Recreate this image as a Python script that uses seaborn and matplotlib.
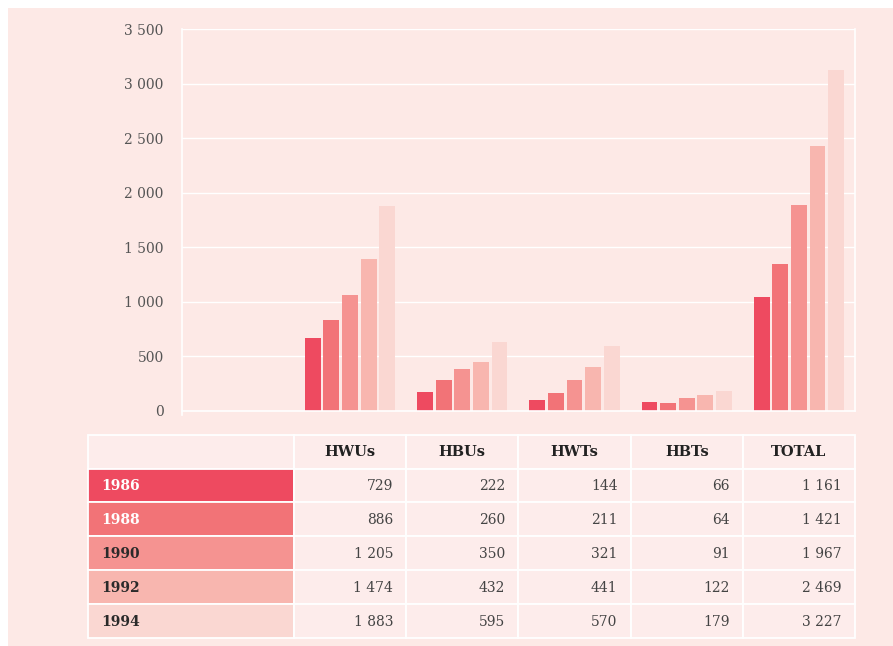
import matplotlib
matplotlib.use("Agg")
import matplotlib.pyplot as plt
from matplotlib.patches import Rectangle
import seaborn as sns
import pandas as pd

# ---- data ----
categories = ["HWUs", "HBUs", "HWTs", "HBTs", "TOTAL"]
years = ["1986", "1988", "1990", "1992", "1994"]
# bar heights as drawn in the chart
bar_hwus = [670, 835, 1065, 1395, 1875]
bar_hbus = [175, 280, 380, 450, 630]
bar_hwts = [97, 158, 279, 400, 590]
bar_hbts = [76, 67, 118, 145, 182]
bar_total = [1040, 1345, 1890, 2430, 3130]
# values printed in the table
tab_hwus = ["729", "886", "1 205", "1 474", "1 883"]
tab_hbus = ["222", "260", "350", "432", "595"]
tab_hwts = ["144", "211", "321", "441", "570"]
tab_hbts = ["66", "64", "91", "122", "179"]
tab_total = ["1 161", "1 421", "1 967", "2 469", "3 227"]
yticks = [0, 500, 1000, 1500, 2000, 2500, 3000, 3500]
ytick_labels = ["0", "500", "1 000", "1 500", "2 000", "2 500", "3 000", "3 500"]

year_colors = ["#ee4a60", "#f27377", "#f59391", "#f8b6af", "#fad7d2"]
bg = "#fde9e6"
cell_bg = "#fdeceb"
serif = ["DejaVu Serif", "Liberation Serif"]

bars = [bar_hwus, bar_hbus, bar_hwts, bar_hbts, bar_total]
rows = []
for c, vals in zip(categories, bars):
    for y, v in zip(years, vals):
        rows.append({"cat": c, "year": y, "value": v})
df = pd.DataFrame(rows)

sns.set_theme(style="white")
plt.rcParams["font.family"] = serif

W, H = 893, 646
fig = plt.figure(figsize=(W / 100, H / 100), dpi=100)
fig.patch.set_facecolor("white")
fig.patches.append(Rectangle((8 / W, 0), 1 - 8 / W, 1 - 8 / H, transform=fig.transFigure,
                             facecolor=bg, edgecolor="none", zorder=-10))

# ---- chart ----
x0, x1 = 181.7, 855
y_top, y_bot = 29.3, 410.7
ax = fig.add_axes([x0 / W, 1 - y_bot / H, (x1 - x0) / W, (y_bot - y_top) / H])
ax.set_facecolor(bg)
sns.barplot(data=df, x="cat", y="value", hue="year", order=categories,
            hue_order=years, palette=year_colors, width=0.83, gap=0.15,
            ax=ax, legend=False, saturation=1, linewidth=0, edgecolor="none")
ax.set_xlim(-1.5, 4.5)
ax.set_ylim(0, 3500)
ax.set_yticks(yticks)
ax.set_yticklabels(ytick_labels, fontsize=10, color="#555555", family=serif)
ax.set_xticks([])
ax.set_xlabel("")
ax.set_ylabel("")
ax.yaxis.grid(True, color="white", linewidth=1)
ax.set_axisbelow(True)
for s in ["left", "bottom", "right"]:
    ax.spines[s].set_visible(True)
    ax.spines[s].set_color("white")
    ax.spines[s].set_linewidth(1.2)
ax.spines["top"].set_visible(False)
ax.spines["left"].set_bounds(-40, 3500)
ax.tick_params(axis="y", length=0, pad=13)

# ---- table ----
tax = fig.add_axes([0, 0, 1, 1])
tax.set_xlim(0, W)
tax.set_ylim(H, 0)
tax.axis("off")
col_edges = [88, 293.6, 406, 518, 630.5, 743, 855]
row_edges = [434.5, 468.5, 502, 535.5, 569.5, 603.5, 637.5]
table_cols = [tab_hwus, tab_hbus, tab_hwts, tab_hbts, tab_total]

for r in range(6):
    for c in range(6):
        xa, xb = col_edges[c], col_edges[c + 1]
        ya, yb = row_edges[r], row_edges[r + 1]
        if c == 0 and r > 0:
            fc = year_colors[r - 1]
        else:
            fc = cell_bg
        tax.add_patch(Rectangle((xa, ya), xb - xa, yb - ya, facecolor=fc,
                                edgecolor="white", linewidth=1.3))
        ym = (ya + yb) / 2
        if r == 0 and c > 0:
            tax.text((xa + xb) / 2, ym + 1, categories[c - 1], ha="center", va="center",
                     fontsize=10.5, fontweight="bold", color="#222222", family=serif)
        elif r > 0 and c == 0:
            tcol = "white" if r <= 2 else "#2a2a2a"
            tax.text(xa + 13, ym + 1, years[r - 1], ha="left", va="center",
                     fontsize=10, fontweight="bold", color=tcol, family=serif)
        elif r > 0 and c > 0:
            tax.text(xb - 13, ym + 1, table_cols[c - 1][r - 1], ha="right", va="center",
                     fontsize=10, color="#444444", family=serif)

fig.savefig("out.png", dpi=100)
